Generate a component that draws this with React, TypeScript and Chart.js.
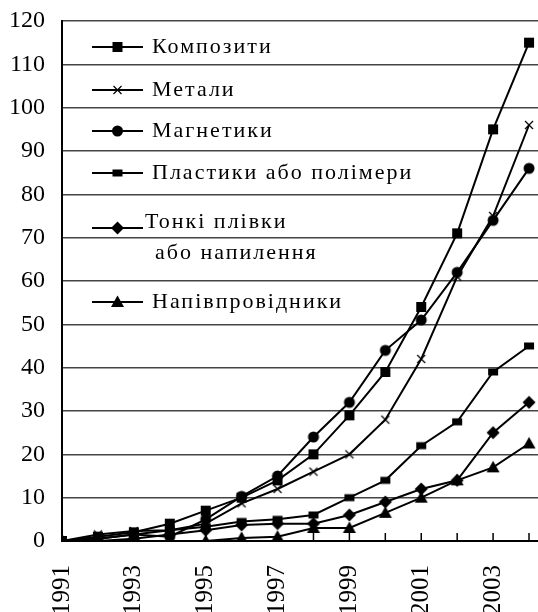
import React, { useEffect, useRef } from 'react';
import { Chart, registerables } from 'chart.js';
Chart.register(...registerables);

const years = [1991, 1992, 1993, 1994, 1995, 1996, 1997, 1998, 1999, 2000, 2001, 2002, 2003, 2004];
const composites = [0, 1, 2, 4, 7, 10, 14, 20, 29, 39, 54, 71, 95, 115];
const metals = [0, 1.5, 2.3, 2.5, 4, 8.7, 12, 16, 20, 28, 42, 61, 75, 96];
const magnetics = [0, 0.5, 1.5, 1, 5, 10.3, 15, 24, 32, 44, 51, 62, 74, 86];
const plastics = [0, 0.5, 1.5, 2.5, 3.3, 4.5, 5, 6, 10, 14, 22, 27.5, 39, 45];
const thinFilms = [0, 0, 0.5, 1.5, 2.5, 3.7, 4, 4, 6, 9, 12, 14, 25, 32];
const semiconductors = [0, 0, 0, 0, 0, 0.7, 1, 3, 3, 6.5, 10, 14, 17, 22.5];

const seriesNames = ['Композити', 'Метали', 'Магнетики', 'Пластики або полімери', 'Тонкі плівки', 'Напівпровідники'];
const thinFilmsSecondLine = 'або напилення';
const seriesValues = [composites, metals, magnetics, plastics, thinFilms, semiconductors];
const markerKinds = ['square', 'cross', 'circle', 'smallrect', 'diamond', 'triangle'];

const FONT = '"Liberation Serif", "DejaVu Serif", serif';

function drawMarker(ctx: CanvasRenderingContext2D, kind: string, x: number, y: number) {
  ctx.save();
  ctx.fillStyle = '#000';
  ctx.strokeStyle = '#000';
  ctx.beginPath();
  if (kind === 'square') {
    ctx.rect(x - 5, y - 5, 10, 10);
    ctx.fill();
  } else if (kind === 'smallrect') {
    ctx.rect(x - 5, y - 3.5, 10, 7);
    ctx.fill();
  } else if (kind === 'circle') {
    ctx.arc(x, y, 5.5, 0, Math.PI * 2);
    ctx.fill();
  } else if (kind === 'diamond') {
    ctx.moveTo(x, y - 6.5);
    ctx.lineTo(x + 6.5, y);
    ctx.lineTo(x, y + 6.5);
    ctx.lineTo(x - 6.5, y);
    ctx.closePath();
    ctx.fill();
  } else if (kind === 'triangle') {
    ctx.moveTo(x, y - 6.5);
    ctx.lineTo(x + 6.5, y + 5);
    ctx.lineTo(x - 6.5, y + 5);
    ctx.closePath();
    ctx.fill();
  } else if (kind === 'cross') {
    ctx.lineWidth = 1.2;
    ctx.moveTo(x - 4, y - 4);
    ctx.lineTo(x + 4, y + 4);
    ctx.moveTo(x + 4, y - 4);
    ctx.lineTo(x - 4, y + 4);
    ctx.stroke();
  }
  ctx.restore();
}

function markerCanvas(kind: string): HTMLCanvasElement {
  const c = document.createElement('canvas');
  c.width = 16;
  c.height = 16;
  const ctx = c.getContext('2d')!;
  drawMarker(ctx, kind, 8, 8);
  return c;
}

const resetSpacing = {
  id: 'resetSpacing',
  beforeDraw(chart: any) {
    (chart.ctx as any).letterSpacing = '0px';
  },
};

const innerTicks = {
  id: 'innerTicks',
  afterDatasetsDraw(chart: any) {
    const { ctx, chartArea, scales } = chart;
    ctx.save();
    ctx.strokeStyle = '#000';
    ctx.lineWidth = 1.5;
    years.forEach((yr) => {
      const px = scales.x.getPixelForValue(yr);
      ctx.beginPath();
      ctx.moveTo(px, chartArea.bottom);
      ctx.lineTo(px, chartArea.bottom - 8);
      ctx.stroke();
    });
    ctx.restore();
  },
};

const customLegend = {
  id: 'customLegend',
  afterDraw(chart: any) {
    const { ctx, chartArea } = chart;
    const L = chartArea.left;
    const T = chartArea.top;
    const rows = [26, 69, 110, 152, 207, 281];
    ctx.save();
    ctx.font = '22px ' + FONT;
    (ctx as any).letterSpacing = '2px';
    ctx.fillStyle = '#000';
    ctx.textBaseline = 'middle';
    rows.forEach((dy, i) => {
      const y = T + dy;
      const x0 = L + 30;
      const x1 = L + 81;
      ctx.strokeStyle = '#000';
      ctx.lineWidth = 2;
      ctx.beginPath();
      ctx.moveTo(x0, y);
      ctx.lineTo(x1, y);
      ctx.stroke();
      drawMarker(ctx, markerKinds[i], (x0 + x1) / 2, y);
      if (i === 4) {
        ctx.fillText(seriesNames[i], L + 83, y - 6);
        ctx.fillText(thinFilmsSecondLine, L + 93, y + 25);
      } else {
        ctx.fillText(seriesNames[i], L + 90, y);
      }
    });
    (ctx as any).letterSpacing = '0px';
    ctx.restore();
  },
};

export default function App() {
  const ref = useRef<HTMLCanvasElement>(null);
  useEffect(() => {
    if (!ref.current) return;
    const datasets = seriesValues.map((vals, i) => ({
      label: seriesNames[i],
      data: years.map((yr, j) => ({ x: yr, y: vals[j] })),
      borderColor: '#000',
      backgroundColor: '#000',
      borderWidth: 2,
      pointStyle: markerCanvas(markerKinds[i]),
      pointRadius: 6,
      tension: 0,
    }));
    const chart = new Chart(ref.current, {
      type: 'line',
      data: { datasets },
      options: {
        animation: false,
        responsive: false,
        devicePixelRatio: 1,
        layout: { autoPadding: false, padding: { left: 9, top: 21, right: 0, bottom: -3 } },
        plugins: { legend: { display: false }, tooltip: { enabled: false } },
        scales: {
          x: {
            type: 'linear',
            min: 1991,
            max: 2004.25,
            grid: { display: true, drawOnChartArea: false, drawTicks: true, tickLength: 24, tickColor: 'rgba(0,0,0,0)' },
            border: { display: true, color: '#000', width: 2 },
            ticks: {
              stepSize: 1,
              autoSkip: false,
              includeBounds: true,
              maxRotation: 90,
              minRotation: 90,
              padding: 0,
              color: '#000',
              font: { size: 25, family: FONT },
              callback: (v: any) => {
                const n = Number(v);
                return Number.isInteger(n) && (n - 1991) % 2 === 0 && n < 2004 ? String(n) : null;
              },
            },
          },
          y: {
            min: 0,
            max: 120,
            grid: { color: '#444', lineWidth: 1.5, drawTicks: true, tickLength: 17, tickColor: 'rgba(0,0,0,0)' },
            border: { display: true, color: '#000', width: 2 },
            ticks: {
              stepSize: 10,
              padding: 0,
              color: '#000',
              font: { size: 24, family: FONT },
            },
          },
        },
      },
      plugins: [resetSpacing, innerTicks, customLegend],
    });
    return () => chart.destroy();
  }, []);
  return (
    <div style={{ position: 'fixed', left: 0, top: 0, width: 538, height: 612, background: '#fff', overflow: 'hidden' }}>
      <canvas ref={ref} width={538} height={612} />
    </div>
  );
}
